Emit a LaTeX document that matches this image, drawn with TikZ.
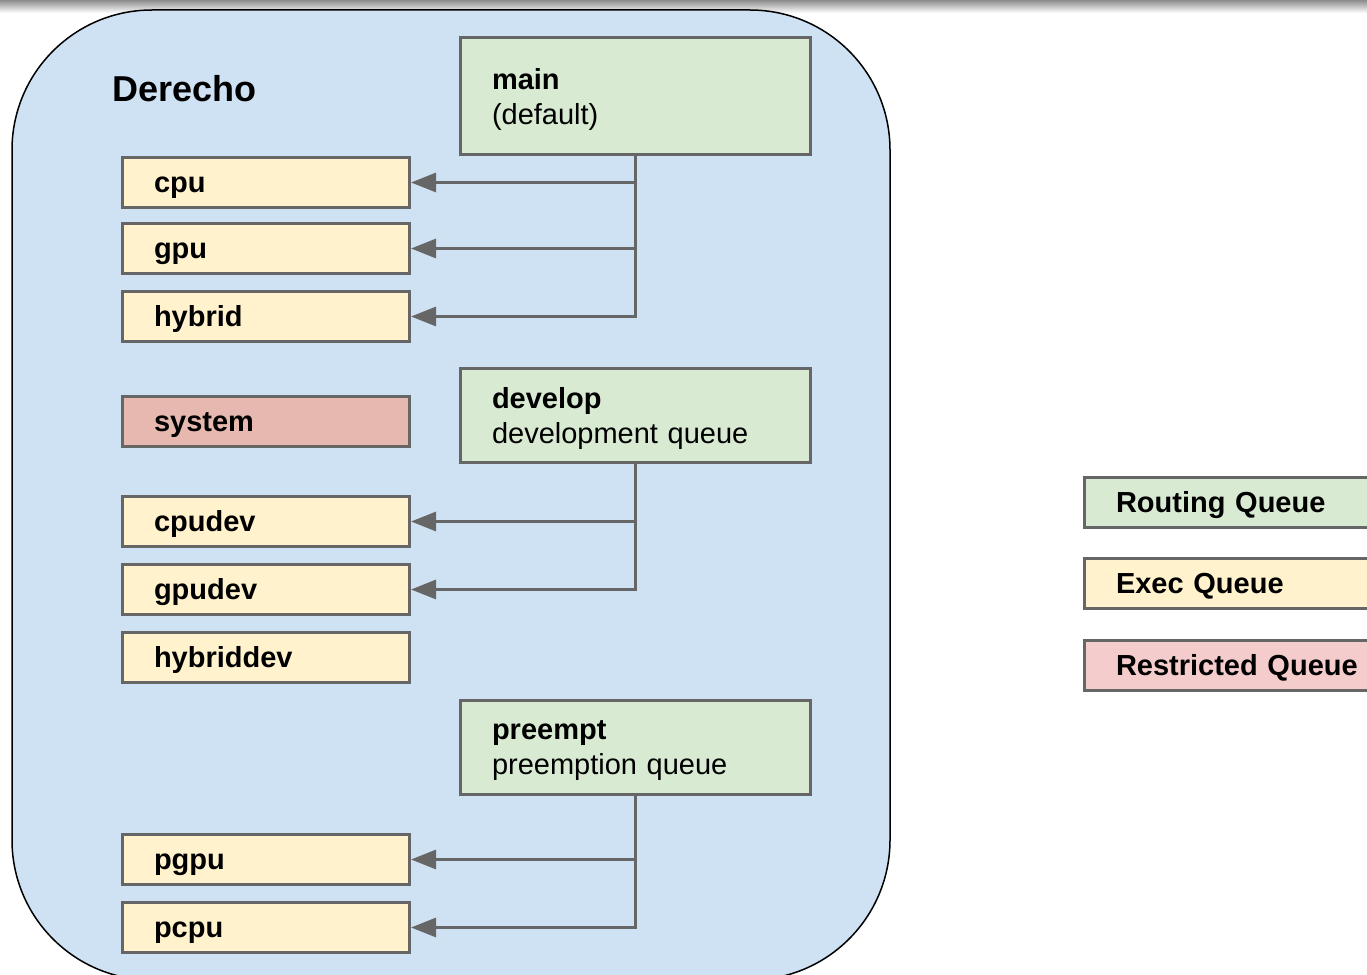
\documentclass[tikz,border=0pt]{standalone}
\usepackage{fontspec}
\setmainfont{Liberation Sans}
\usetikzlibrary{positioning,arrows.meta}

\definecolor{clusterblue}{HTML}{CFE2F3}
\definecolor{routegreen}{HTML}{D9EAD3}
\definecolor{execyellow}{HTML}{FFF2CC}
\definecolor{systemred}{HTML}{E6B8AF}
\definecolor{restrictpink}{HTML}{F4CCCC}
\definecolor{edgegray}{HTML}{666666}

\tikzset{
	queuebox/.style={draw=edgegray, line width=3pt, inner xsep=31.5pt, inner ysep=0pt,
		align=left, anchor=north west, font=\fontsize{29}{35}\selectfont},
	execq/.style={queuebox, fill=execyellow, text width=224pt, minimum height=50pt,
		text height=19pt, text depth=0pt, font=\fontsize{29}{35}\selectfont\bfseries},
	systemq/.style={execq, fill=systemred},
	routeq/.style={queuebox, fill=routegreen, text width=287pt, text depth=35pt},
	legendq/.style={execq, text width=300pt},
	feed/.style={draw=edgegray, line width=3pt, -{Triangle[length=25pt,width=19pt]}},
}

\begin{document}
\begin{tikzpicture}[x=1pt, y=-1pt]
		\useasboundingbox (0,0) rectangle (1367,974);
		\clip (0,0) rectangle (1367,974);
		
		\shade[top color=black!45, bottom color=white] (0,0) rectangle (1367,13);
		\draw[fill=clusterblue, line width=1.5pt, rounded corners=140pt] (12,10) rectangle (890,980);
		
		\node[anchor=west, font=\fontsize{36}{40}\selectfont\bfseries] (derecho) at (109,89) {Derecho};
		
		\node[routeq, minimum height=117pt] (main) at (459,36) {\textbf{main}\\(default)};
		\node[routeq, minimum height=94pt] (develop) at (459,367) {\textbf{develop}\\development queue};
		\node[routeq, minimum height=94pt] (preempt) at (459,699) {\textbf{preempt}\\preemption queue};
		
		\node[execq] (cpu) at (121,156) {cpu};
		\node[execq, below=13pt of cpu] (gpu) {gpu};
		\node[execq, below=15pt of gpu] (hybrid) {hybrid};
		\node[systemq, below=52pt of hybrid] (system) {system};
		\node[execq, below=47pt of system] (cpudev) {cpudev};
		\node[execq, below=15pt of cpudev] (gpudev) {gpudev};
		\node[execq, below=15pt of gpudev] (hybriddev) {hybriddev};
		\node[execq, below=149pt of hybriddev] (pgpu) {pgpu};
		\node[execq, below=15pt of pgpu] (pcpu) {pcpu};
		
		\node[legendq, fill=routegreen] (keyroute) at (1083,476) {Routing Queue};
		\node[legendq, below=28pt of keyroute] (keyexec) {Exec Queue};
		\node[legendq, fill=restrictpink, below=29pt of keyexec] (keyrestrict) {Restricted Queue};
		
		\draw[feed] (main.south) |- (cpu.east);
		\draw[feed] (main.south) |- (gpu.east);
		\draw[feed] (main.south) |- (hybrid.east);
		\draw[feed] (develop.south) |- (cpudev.east);
		\draw[feed] (develop.south) |- (gpudev.east);
		\draw[feed] (preempt.south) |- (pgpu.east);
		\draw[feed] (preempt.south) |- (pcpu.east);
		
\end{tikzpicture}
\end{document}
